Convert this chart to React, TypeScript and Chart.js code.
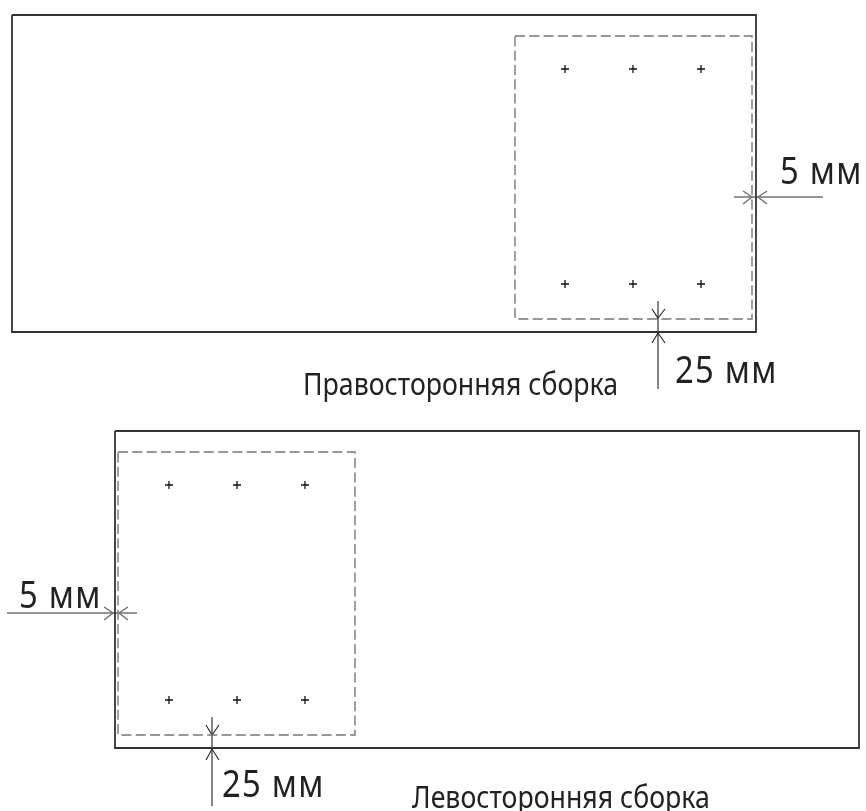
import React, { useEffect, useRef } from "react";
import { Chart, registerables } from "chart.js";

Chart.register(...registerables);

type P = { x: number; y: number };
const pts = (a: number[][]): P[] => a.map(([x, y]) => ({ x, y }));

const rightOutline = [[12, 15], [756, 15], [756, 332], [12, 332], [12, 15]];
const rightDashed = [[515, 36], [752, 36], [752, 319], [515, 319], [515, 36]];
const rightHolesX = [565, 633, 701];
const rightHolesY = [69, 284];

const leftOutline = [[115, 431], [859, 431], [859, 748], [115, 748], [115, 431]];
const leftDashed = [[118, 452], [355, 452], [355, 735], [118, 735], [118, 452]];
const leftHolesX = [169, 237, 305];
const leftHolesY = [485, 700];

const greyLeaders = [
  [[734, 197], [823, 197]],
  [[743, 191], [752, 197], [743, 204]],
  [[767, 191], [758, 197], [767, 204]],
  [[7, 613], [137, 613]],
  [[104, 607], [113, 613], [104, 620]],
  [[128, 607], [119, 613], [128, 620]],
];
const blackLeaders = [
  [[658, 301], [658, 389]],
  [[652, 309], [658, 318], [665, 309]],
  [[652, 343], [658, 333], [665, 343]],
  [[212, 717], [212, 806]],
  [[206, 725], [212, 735], [219, 725]],
  [[206, 760], [212, 749], [219, 760]],
];

const labelTexts = ["5 мм", "25 мм", "Правосторонняя сборка", "5 мм", "25 мм", "Левосторонняя сборка"];
const labelX = [780, 675, 303, 19, 222, 412];
const labelY = [184, 383, 395, 608, 797, 808];
const labelSize = [39, 39, 30, 39, 39, 30];
const labelSpacing = [1.5, 1.5, 0, 1.5, 1.5, 0];
const labelStretch = [0.84, 0.84, 0.89, 0.84, 0.84, 0.89];

const FONT = '"Noto Sans", sans-serif';

const labelsPlugin = {
  id: "diagramLabels",
  afterDatasetsDraw(chart: any) {
    const { ctx, scales } = chart;
    ctx.save();
    ctx.fillStyle = "#222222";
    ctx.textBaseline = "alphabetic";
    ctx.textAlign = "left";
    labelTexts.forEach((t, i) => {
      ctx.save();
      ctx.font = `${labelSize[i]}px ${FONT}`;
      ctx.letterSpacing = `${labelSpacing[i]}px`;
      ctx.translate(scales.x.getPixelForValue(labelX[i]), scales.y.getPixelForValue(labelY[i]));
      ctx.scale(labelStretch[i], 1);
      ctx.fillText(t, 0, 0);
      ctx.restore();
    });
    ctx.restore();
  },
};

const lineSet = (a: number[][], color: string, width: number, dash: number[] = []) => ({
  data: pts(a),
  showLine: true,
  fill: false,
  tension: 0,
  borderColor: color,
  borderWidth: width,
  borderDash: dash,
  borderJoinStyle: "miter" as const,
  pointRadius: 0,
  clip: false,
});

const holeSet = (xs: number[], ys: number[]) => ({
  data: ys.flatMap((y) => xs.map((x) => ({ x, y }))),
  showLine: false,
  pointStyle: "cross" as const,
  pointRadius: 4,
  borderColor: "#111111",
  backgroundColor: "#111111",
  borderWidth: 1.3,
});

export default function App() {
  const ref = useRef<HTMLCanvasElement>(null);
  useEffect(() => {
    document.body.style.margin = "0";
    document.body.style.background = "#ffffff";
    const chart = new Chart(ref.current!, {
      type: "scatter",
      data: {
        datasets: [
          lineSet(rightDashed, "#777777", 1.4, [10, 4.3]),
          lineSet(leftDashed, "#777777", 1.4, [10, 4.3]),
          lineSet(rightOutline, "#333333", 1.8),
          lineSet(leftOutline, "#333333", 1.8),
          holeSet(rightHolesX, rightHolesY),
          holeSet(leftHolesX, leftHolesY),
          ...greyLeaders.map((a) => lineSet(a, "#707070", 1.4)),
          ...blackLeaders.map((a) => lineSet(a, "#222222", 1.1)),
        ] as any,
      },
      options: {
        animation: false,
        responsive: false,
        devicePixelRatio: 1,
        layout: { padding: 0, autoPadding: false },
        plugins: { legend: { display: false }, tooltip: { enabled: false }, title: { display: false } },
        scales: {
          x: { type: "linear", min: 0, max: 866, display: false },
          y: { type: "linear", min: 0, max: 811, reverse: true, display: false },
        },
      },
      plugins: [labelsPlugin],
    });
    return () => chart.destroy();
  }, []);
  return <canvas ref={ref} width={866} height={811} style={{ display: "block", width: 866, height: 811 }} />;
}
